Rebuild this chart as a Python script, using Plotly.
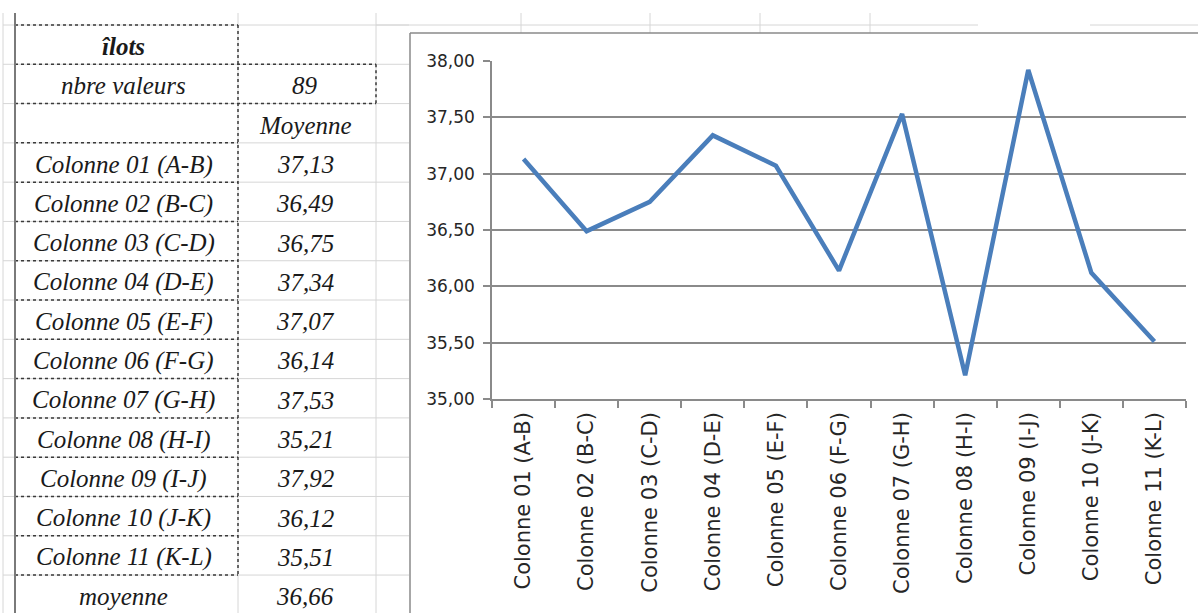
import plotly.graph_objects as go

# ---------------- data ----------------
categories = ["Colonne 01 (A-B)", "Colonne 02 (B-C)", "Colonne 03 (C-D)", "Colonne 04 (D-E)",
              "Colonne 05 (E-F)", "Colonne 06 (F-G)", "Colonne 07 (G-H)", "Colonne 08 (H-I)",
              "Colonne 09 (I-J)", "Colonne 10 (J-K)", "Colonne 11 (K-L)"]
moyennes = [37.13, 36.49, 36.75, 37.34, 37.07, 36.14, 37.53, 35.21, 37.92, 36.12, 35.51]
nbre_valeurs = 89
moyenne_globale = 36.66
table_title = "îlots"
y_ticks = [35.0, 35.5, 36.0, 36.5, 37.0, 37.5, 38.0]

W, H = 1198, 613


def px(x):
    return x / W


def py(y):
    return 1 - y / H


def fr(v):
    return f"{v:.2f}".replace(".", ",")


fig = go.Figure()
fig.add_trace(go.Scatter(
    x=categories, y=moyennes, mode="lines",
    line=dict(color="#4a7ebb", width=4.5), hoverinfo="x+y", showlegend=False,
))

shapes = []
LIGHT = "#d6d6d6"
DOT = "#3a3a3a"


def hline(y, x0, x1, color=LIGHT, width=1, dash="solid"):
    shapes.append(dict(type="line", xref="paper", yref="paper", x0=px(x0), x1=px(x1),
                       y0=py(y), y1=py(y), line=dict(color=color, width=width, dash=dash), layer="below"))


def vline(x, y0, y1, color=LIGHT, width=1, dash="solid"):
    shapes.append(dict(type="line", xref="paper", yref="paper", x0=px(x), x1=px(x),
                       y0=py(y0), y1=py(y1), line=dict(color=color, width=width, dash=dash), layer="below"))


# table geometry
ROW0 = 25.0
RH = 39.29
C0, C1, C2 = 15, 238, 376
rows_y = [ROW0 + RH * k for k in range(16)]

# spreadsheet light gridlines
for k, y in enumerate(rows_y[:15]):
    hline(y, 3, 409)
hline(25, 376, 978)
hline(25, 1090, 1198)
for x in [3, 376]:
    vline(x, 13, 613)
vline(238, 13, 613)
for x in [521, 650, 760, 870]:
    vline(x, 13, 33)

# dotted borders
hline(rows_y[0], C0, C1, DOT, 1.5, "dot")
hline(rows_y[1], C0, C2, DOT, 1.5, "dot")
hline(rows_y[2], C0, C2, DOT, 1.5, "dot")
for k in range(3, 15):
    hline(rows_y[k], C0, C1, DOT, 1.5, "dot")
vline(C1, rows_y[0], rows_y[14], DOT, 1.5, "dot")
vline(C2, rows_y[1], rows_y[2], DOT, 1.5, "dot")

# dark left border
vline(C0, 13, 613, "#7a7a7a", 2)

# chart frame
shapes.append(dict(type="rect", xref="paper", yref="paper", x0=px(410), x1=px(1200),
                   y0=py(33), y1=py(615), fillcolor="white", line=dict(width=0), layer="below"))
shapes.append(dict(type="line", xref="paper", yref="paper", x0=px(410), x1=px(1200),
                   y0=py(33), y1=py(33), line=dict(color="#8a8a8a", width=1.5)))
shapes.append(dict(type="line", xref="paper", yref="paper", x0=px(410), x1=px(410),
                   y0=py(33), y1=py(615), line=dict(color="#8a8a8a", width=1.5)))

# table text
ann = []
TF = dict(family="Liberation Serif", size=25, color="#1a1a1a")
col1_x = (C0 + C1) / 2 - 3
col2_x = (C1 + C2) / 2 - 2


def cell(row, x, text):
    yc = (rows_y[row] + rows_y[row + 1]) / 2 + 2
    ann.append(dict(xref="paper", yref="paper", x=px(x), y=py(yc), text=text, showarrow=False,
                    xanchor="center", yanchor="middle", font=TF))


cell(0, col1_x, f"<b><i>{table_title}</i></b>")
cell(1, col1_x, "<i>nbre valeurs</i>")
cell(1, col2_x, f"<i>{nbre_valeurs}</i>")
cell(2, col2_x, "<i>Moyenne</i>")
for i, (c, v) in enumerate(zip(categories, moyennes)):
    cell(3 + i, col1_x, f"<i>{c}</i>")
    cell(3 + i, col2_x, f"<i>{fr(v)}</i>")
cell(14, col1_x, "<i>moyenne</i>")
cell(14, col2_x, f"<i>{fr(moyenne_globale)}</i>")

AX = "#8a8a8a"
fig.update_layout(
    width=W, height=H,
    margin=dict(l=0, r=0, t=0, b=0, autoexpand=False),
    paper_bgcolor="white", plot_bgcolor="white",
    separators=", ",
    shapes=shapes, annotations=ann,
    xaxis=dict(
        type="category", domain=[px(492), px(1186)], range=[-0.5, len(categories) - 0.5],
        tickson="boundaries", ticks="outside", ticklen=7, tickcolor=AX, tickwidth=1.5,
        showline=True, linecolor=AX, linewidth=1.5, showgrid=False,
        tickangle=-90, tickfont=dict(family="DejaVu Sans", size=21, color="#262626"),
        ticklabelstandoff=3, automargin=False,
    ),
    yaxis=dict(
        domain=[py(399), py(61)], range=[35, 38], tickvals=y_ticks, tickformat=".2f",
        showgrid=True, gridcolor=AX, gridwidth=1.5, zeroline=False,
        showline=True, linecolor=AX, linewidth=1.5,
        ticks="outside", ticklen=7, tickcolor=AX, tickwidth=1.5,
        tickfont=dict(family="DejaVu Sans", size=17, color="#262626"),
        ticklabelstandoff=5, automargin=False,
    ),
)

fig.write_html(
    "out.html",
    config={"displayModeBar": False},
    post_script="document.body.style.margin='0';document.body.style.overflow='hidden';",
)
